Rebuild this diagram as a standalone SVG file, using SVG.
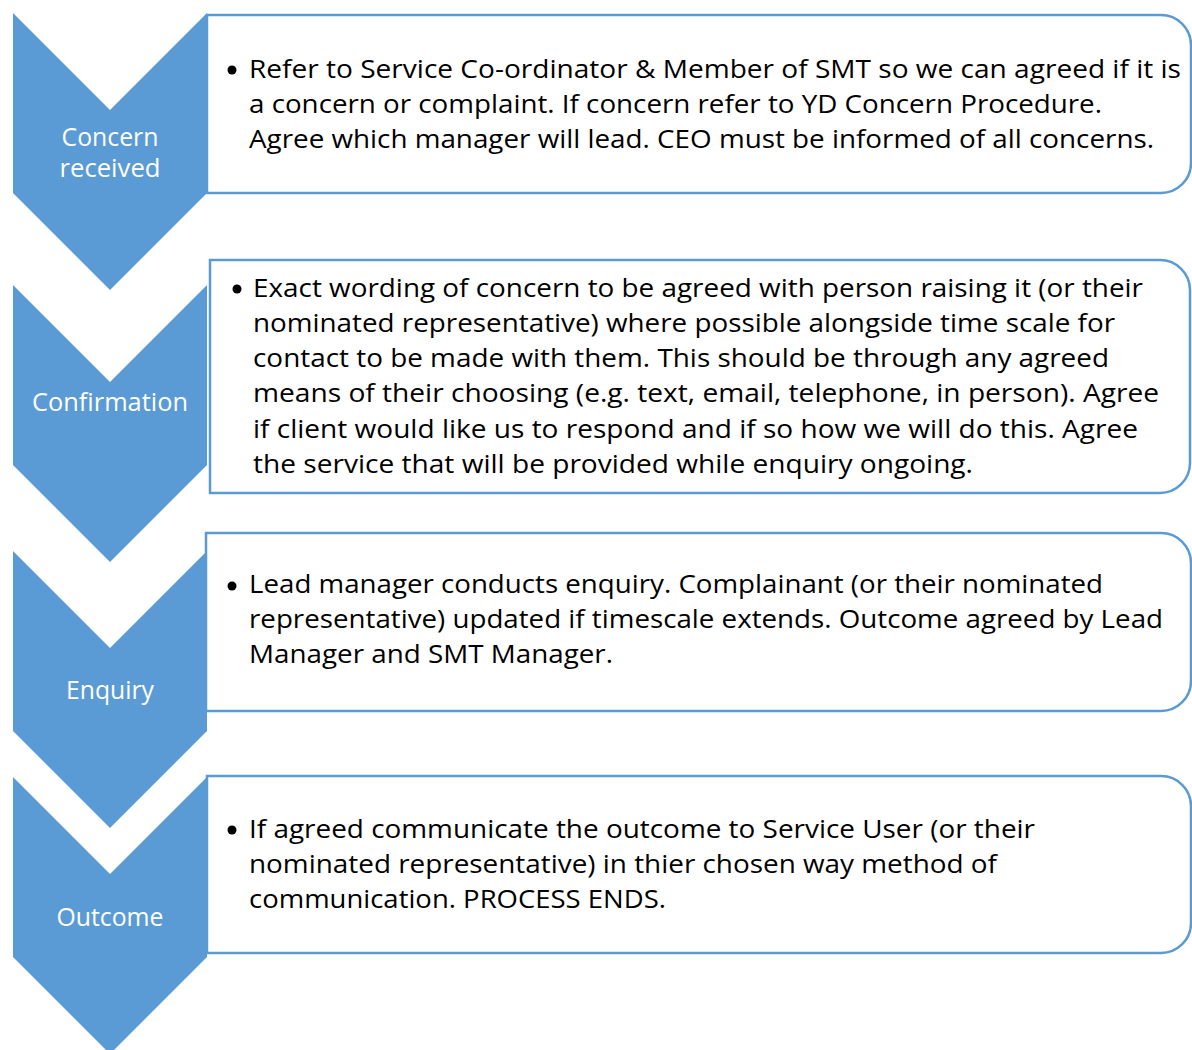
<svg xmlns="http://www.w3.org/2000/svg" width="1192" height="1050" viewBox="0 0 1192 1050">
  <style>
    .chev { fill: #5B9BD5; }
    .box { fill: #FFFFFF; stroke: #5B9BD5; stroke-width: 2.5; }
    .step { font-family: "Open Sans", "Liberation Sans", sans-serif; font-size: 25px; fill: #FFFFFF; text-anchor: middle; }
    .body { font-family: "Open Sans", "Liberation Sans", sans-serif; font-size: 25px; fill: #000000; }
    .dot { fill: #000000; }
  </style>
  <rect width="1192" height="1050" fill="#FFFFFF"/>

  <!-- Step 1 -->
  <g id="step-concern-received">
    <path class="box" d="M207,15 H1161 A30,30 0 0 1 1191,45 V163 A30,30 0 0 1 1161,193 H207 Z"/>
    <path class="chev" d="M13,13 L110,110 L207,13 V193 L110,290 L13,193 Z"/>
    <text class="step" x="110" y="146" textLength="97" lengthAdjust="spacingAndGlyphs">Concern</text>
    <text class="step" x="110" y="177" textLength="101" lengthAdjust="spacingAndGlyphs">received</text>
    <circle class="dot" cx="232" cy="70" r="4.5"/>
    <text class="body" x="249" y="78" textLength="932" lengthAdjust="spacingAndGlyphs">Refer to Service Co-ordinator &amp; Member of SMT so we can agreed if it is</text>
    <text class="body" x="249" y="113" textLength="853" lengthAdjust="spacingAndGlyphs">a concern or complaint. If concern refer to YD Concern Procedure.</text>
    <text class="body" x="249" y="148" textLength="905" lengthAdjust="spacingAndGlyphs">Agree which manager will lead. CEO must be informed of all concerns.</text>
  </g>

  <!-- Step 2 -->
  <g id="step-confirmation">
    <path class="box" d="M210,260 H1160 A30,30 0 0 1 1190,290 V463 A30,30 0 0 1 1160,493 H210 Z"/>
    <path class="chev" d="M13,285 L110,382 L207,285 V465 L110,562 L13,465 Z"/>
    <text class="step" x="110" y="411" textLength="156" lengthAdjust="spacingAndGlyphs">Confirmation</text>
    <circle class="dot" cx="237" cy="289" r="4.5"/>
    <text class="body" x="253" y="297" textLength="890" lengthAdjust="spacingAndGlyphs">Exact wording of concern to be agreed with person raising it (or their</text>
    <text class="body" x="253" y="332" textLength="862" lengthAdjust="spacingAndGlyphs">nominated representative) where possible alongside time scale for</text>
    <text class="body" x="253" y="367" textLength="856" lengthAdjust="spacingAndGlyphs">contact to be made with them. This should be through any agreed</text>
    <text class="body" x="253" y="402" textLength="906" lengthAdjust="spacingAndGlyphs">means of their choosing (e.g. text, email, telephone, in person). Agree</text>
    <text class="body" x="253" y="438" textLength="885" lengthAdjust="spacingAndGlyphs">if client would like us to respond and if so how we will do this. Agree</text>
    <text class="body" x="253" y="473" textLength="720" lengthAdjust="spacingAndGlyphs">the service that will be provided while enquiry ongoing.</text>
  </g>

  <!-- Step 3 -->
  <g id="step-enquiry">
    <path class="box" d="M206,533 H1161 A30,30 0 0 1 1191,563 V681 A30,30 0 0 1 1161,711 H206 Z"/>
    <path class="chev" d="M13,551 L110,648 L207,551 V731 L110,828 L13,731 Z"/>
    <text class="step" x="110" y="699" textLength="88" lengthAdjust="spacingAndGlyphs">Enquiry</text>
    <circle class="dot" cx="232" cy="586" r="4.5"/>
    <text class="body" x="249" y="593" textLength="854" lengthAdjust="spacingAndGlyphs">Lead manager conducts enquiry. Complainant (or their nominated</text>
    <text class="body" x="249" y="628" textLength="914" lengthAdjust="spacingAndGlyphs">representative) updated if timescale extends. Outcome agreed by Lead</text>
    <text class="body" x="249" y="663" textLength="364" lengthAdjust="spacingAndGlyphs">Manager and SMT Manager.</text>
  </g>

  <!-- Step 4 -->
  <g id="step-outcome">
    <path class="box" d="M207,776 H1161 A30,30 0 0 1 1191,806 V923 A30,30 0 0 1 1161,953 H207 Z"/>
    <path class="chev" d="M13,777 L110,874 L207,777 V957 L110,1054 L13,957 Z"/>
    <text class="step" x="110" y="926" textLength="107" lengthAdjust="spacingAndGlyphs">Outcome</text>
    <circle class="dot" cx="232" cy="830" r="4.5"/>
    <text class="body" x="249" y="838" textLength="786" lengthAdjust="spacingAndGlyphs">If agreed communicate the outcome to Service User (or their</text>
    <text class="body" x="249" y="873" textLength="748" lengthAdjust="spacingAndGlyphs">nominated representative) in thier chosen way method of</text>
    <text class="body" x="249" y="908" textLength="417" lengthAdjust="spacingAndGlyphs">communication. PROCESS ENDS.</text>
  </g>
</svg>
